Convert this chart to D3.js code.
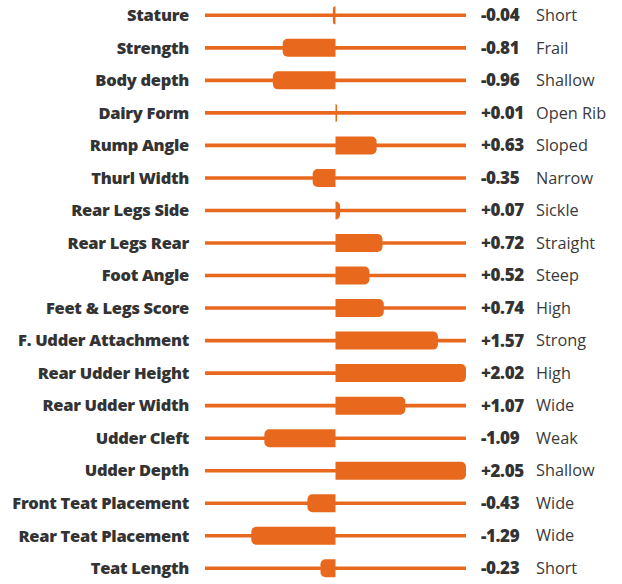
<!DOCTYPE html>
<html>
<head>
<meta charset="utf-8">
<script src="https://cdn.jsdelivr.net/npm/d3@7"></script>
<style>
  body { margin: 0; background: #fff; }
  svg { display: block; }
</style>
</head>
<body>
<svg id="chart" width="622" height="584"></svg>
<script>
// Linear type traits: trait name, proof value and the descriptor of that direction
const traits = ["Stature", "Strength", "Body depth", "Dairy Form", "Rump Angle", "Thurl Width",
  "Rear Legs Side", "Rear Legs Rear", "Foot Angle", "Feet & Legs Score", "F. Udder Attachment",
  "Rear Udder Height", "Rear Udder Width", "Udder Cleft", "Udder Depth", "Front Teat Placement",
  "Rear Teat Placement", "Teat Length"];
const values = [-0.04, -0.81, -0.96, 0.01, 0.63, -0.35, 0.07, 0.72, 0.52, 0.74, 1.57,
  2.02, 1.07, -1.09, 2.05, -0.43, -1.29, -0.23];
const descriptors = ["Short", "Frail", "Shallow", "Open Rib", "Sloped", "Narrow", "Sickle",
  "Straight", "Steep", "High", "Strong", "High", "Wide", "Weak", "Shallow", "Wide", "Wide", "Short"];
const scaleDomain = [-2, 2];

const orange = "#E8691E";
const ink = "#333333";

const svg = d3.select("#chart");

const x = d3.scaleLinear().domain(scaleDomain).range([205, 466]).clamp(true);
const y = d3.scalePoint().domain(traits).range([15.3, 568.3]);

const barH = 18, lineW = 3.6, rMax = 5, minW = 1.6;

const fmt = v => (v < 0 ? "-" : "+") + Math.abs(v).toFixed(2);

// bar path: flat at the zero line, rounded at the outer end
function barPath(v, cy) {
  const x0 = x(0);
  const dir = v < 0 ? -1 : 1;
  const w = Math.max(minW, Math.abs(x(v) - x0));
  const x1 = x0 + dir * w;
  const r = Math.min(rMax, w, barH / 2);
  const t = cy - barH / 2, b = cy + barH / 2;
  const p = d3.path();
  p.moveTo(x0, t);
  p.lineTo(x1 - dir * r, t);
  p.arcTo(x1, t, x1, t + r, r);
  p.lineTo(x1, b - r);
  p.arcTo(x1, b, x1 - dir * r, b, r);
  p.lineTo(x0, b);
  p.closePath();
  return p.toString();
}

const rows = svg.selectAll("g.row")
  .data(traits.map((t, i) => ({ trait: t, value: values[i], desc: descriptors[i] })))
  .join("g")
  .attr("class", "row");

rows.append("line")
  .attr("x1", x(scaleDomain[0]))
  .attr("x2", x(scaleDomain[1]))
  .attr("y1", d => y(d.trait))
  .attr("y2", d => y(d.trait))
  .attr("stroke", orange)
  .attr("stroke-width", lineW);

rows.append("path")
  .attr("d", d => barPath(d.value, y(d.trait)))
  .attr("fill", orange);

rows.append("text")
  .attr("x", 189)
  .attr("y", d => y(d.trait))
  .attr("dy", "0.35em")
  .attr("text-anchor", "end")
  .attr("font-family", "'Open Sans', sans-serif")
  .attr("font-weight", 800)
  .attr("font-size", 16.5)
  .attr("letter-spacing", -0.3)
  .attr("fill", ink)
  .text(d => d.trait);

rows.append("text")
  .attr("x", 481)
  .attr("y", d => y(d.trait))
  .attr("dy", "0.35em")
  .attr("font-family", "'Open Sans', sans-serif")
  .attr("font-weight", 800)
  .attr("font-size", 17)
  .attr("letter-spacing", -0.4)
  .attr("fill", ink)
  .text(d => fmt(d.value));

rows.append("text")
  .attr("x", 536)
  .attr("y", d => y(d.trait))
  .attr("dy", "0.35em")
  .attr("font-family", "'Open Sans', sans-serif")
  .attr("font-weight", 400)
  .attr("font-size", 16.3)
  .attr("fill", "#3a3a3a")
  .text(d => d.desc);
</script>
</body>
</html>
